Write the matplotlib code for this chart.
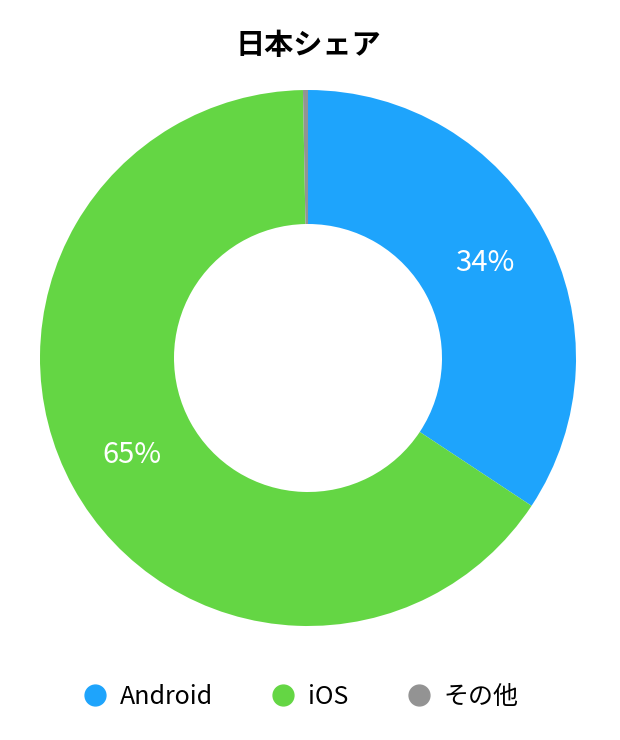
"""
Japan smartphone OS share donut chart
"""

import matplotlib.pyplot as plt
from matplotlib.lines import Line2D

plt.rcParams["font.family"] = ["Noto Sans CJK JP", "DejaVu Sans"]

LABELS = ["Android", "iOS", "その他"]
SHARES = [34.3, 65.4, 0.3]
COLORS = ["#1EA4FC", "#64D644", "#939393"]
TITLE = "日本シェア"

fig = plt.figure(figsize=(6.2, 7.4), dpi=100)

# place the pie so the centre is at (308, 358) px with radius 268 px
ax = fig.add_axes([40 / 620, 114 / 740, 536 / 620, 536 / 740])

wedges, texts, autotexts = ax.pie(
    SHARES,
    colors=COLORS,
    startangle=90,
    counterclock=False,
    radius=1.0,
    wedgeprops=dict(width=0.5, edgecolor="none"),
    autopct=lambda p: f"{p:.0f}%" if p > 5 else "",
    pctdistance=0.75,
    textprops=dict(color="white", fontsize=21),
)
ax.set_xlim(-1, 1)
ax.set_ylim(-1, 1)
ax.set_aspect("equal")
ax.axis("off")

# title
fig.text(0.497, 1 - 45 / 740, TITLE, ha="center", va="center",
         fontsize=21, fontweight="bold")

# legend with round markers
handles = [
    Line2D([0], [0], marker="o", linestyle="none", markersize=15,
           markerfacecolor=c, markeredgecolor=c)
    for c in COLORS
]
fig.legend(
    handles,
    LABELS,
    loc="center",
    bbox_to_anchor=(0.483, 1 - 697 / 740),
    ncol=3,
    frameon=False,
    fontsize=18,
    handlelength=1.2,
    handletextpad=0.4,
    columnspacing=2.2,
)

plt.savefig("out.png", dpi=100)
